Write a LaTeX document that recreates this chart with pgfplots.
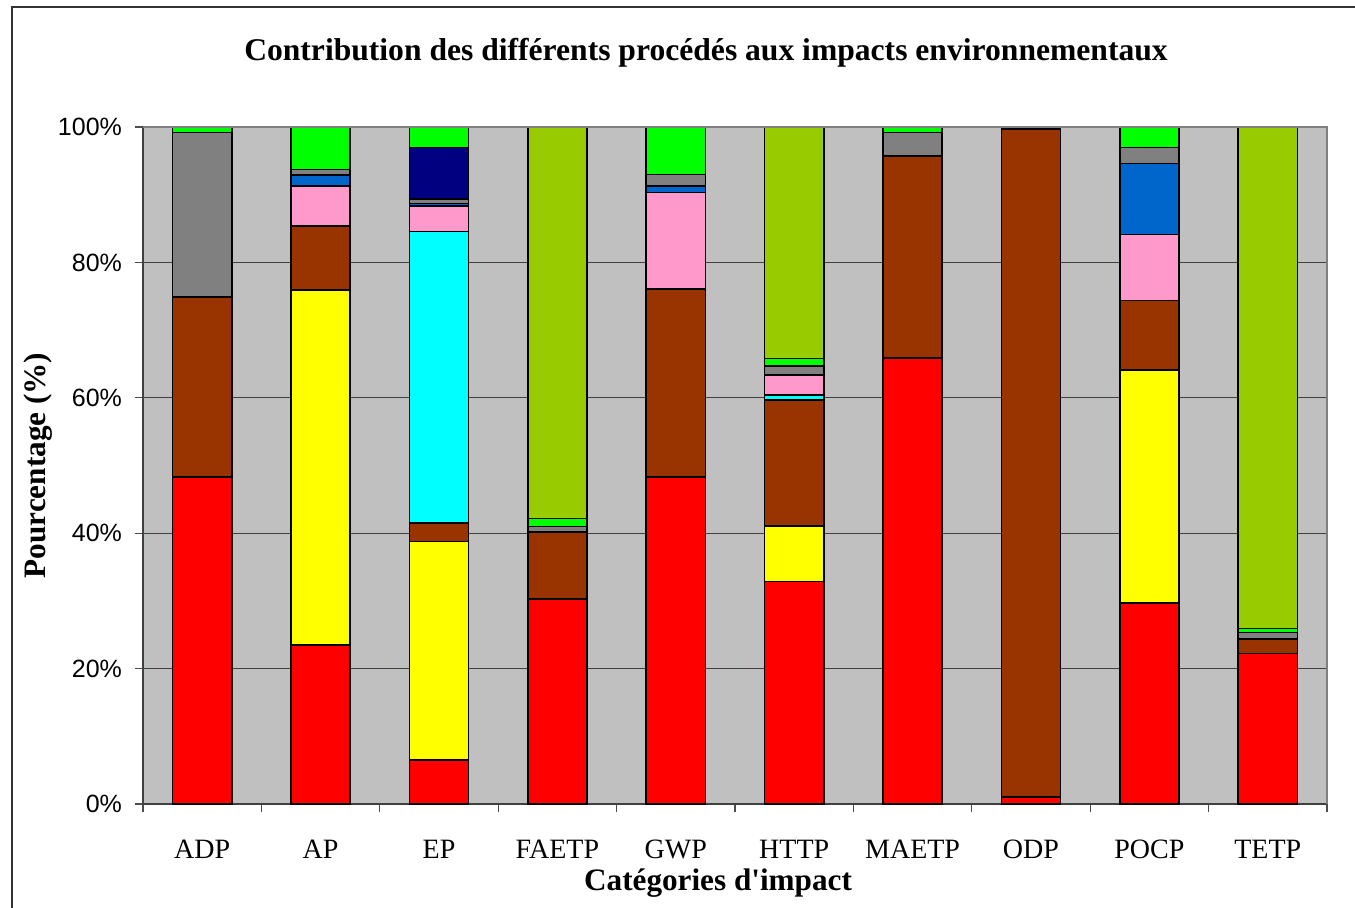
\documentclass[border=0pt]{standalone}
\usepackage{pgfplots}
\pgfplotsset{compat=1.18}
\usepackage{fontspec}
\setmainfont{Liberation Serif}
\newfontfamily\serifnt{Liberation Serif}[Ligatures=TeXOff]
\newfontfamily\arial{Liberation Sans}
\definecolor{cRed}{HTML}{FF0000}
\definecolor{cYellow}{HTML}{FFFF00}
\definecolor{cBrown}{HTML}{993300}
\definecolor{cCyan}{HTML}{00FFFF}
\definecolor{cPink}{HTML}{FF99CC}
\definecolor{cBlue}{HTML}{0066CC}
\definecolor{cGray}{HTML}{808080}
\definecolor{cNavy}{HTML}{000080}
\definecolor{cGreen}{HTML}{00FF00}
\definecolor{cOlive}{HTML}{99CC00}
\definecolor{cBack}{HTML}{C0C0C0}
\begin{document}
\begin{tikzpicture}
\useasboundingbox (0,0) rectangle (677.5pt,-454pt);
\draw[line width=0.8pt, black!80] (6pt,-460pt) -- (6pt,-3.5pt) -- (690pt,-3.5pt);
\begin{axis}[
  at={(71.5pt,-402pt)}, anchor=south west,
  scale only axis, width=592pt, height=338.5pt,
  ybar stacked, bar width=0.5,
  xmin=-0.5, xmax=9.5, ymin=0, ymax=100,
  axis background/.style={fill=cBack},
  xtick={0,...,9},
  xticklabels={ADP,AP,EP,FAETP,GWP,HTTP,MAETP,ODP,POCP,TETP},
  major x tick style={draw=none},
  minor xtick={-0.5,0.5,...,9.5},
  minor tick length=4pt,
  ytick={0,20,40,60,80,100},
  yticklabels={0\%,20\%,40\%,60\%,80\%,100\%},
  major tick length=4pt,
  tick align=outside,
  tick style={black!70, line width=0.6pt},
  ymajorgrids, grid style={black!75, line width=0.6pt},
  axis x line*=bottom, axis y line*=left,
  x axis line style={black!75, line width=0.8pt},
  y axis line style={black!75, line width=0.8pt},
  xticklabel style={font=\fontsize{14}{16}\selectfont, yshift=-10.5pt},
  yticklabel style={font=\arial\fontsize{12.5}{14}\selectfont, xshift=-3pt},
  clip=false,
  every axis plot/.append style={draw=black, line width=0.75pt},
]
% red
\addplot[fill=cRed] coordinates {(0,48.3)(1,23.5)(2,6.5)(3,30.3)(4,48.3)(5,32.9)(6,65.9)(7,1.0)(8,29.7)(9,22.2)};
% yellow
\addplot[fill=cYellow] coordinates {(0,0)(1,52.4)(2,32.3)(3,0)(4,0)(5,8.2)(6,0)(7,0)(8,34.4)(9,0)};
% brown
\addplot[fill=cBrown] coordinates {(0,26.6)(1,9.5)(2,2.7)(3,9.9)(4,27.8)(5,18.6)(6,29.8)(7,98.7)(8,10.3)(9,2.2)};
% cyan
\addplot[fill=cCyan] coordinates {(0,0)(1,0)(2,43.1)(3,0)(4,0)(5,0.7)(6,0)(7,0)(8,0)(9,0)};
% pink
\addplot[fill=cPink] coordinates {(0,0)(1,5.9)(2,3.7)(3,0)(4,14.2)(5,3.0)(6,0)(7,0)(8,9.7)(9,0)};
% blue
\addplot[fill=cBlue] coordinates {(0,0)(1,1.6)(2,0.4)(3,0)(4,1.0)(5,0)(6,0)(7,0)(8,10.5)(9,0)};
% gray
\addplot[fill=cGray] coordinates {(0,24.3)(1,0.8)(2,0.7)(3,0.8)(4,1.7)(5,1.3)(6,3.5)(7,0.15)(8,2.4)(9,0.9)};
% navy
\addplot[fill=cNavy] coordinates {(0,0)(1,0)(2,7.6)(3,0)(4,0)(5,0)(6,0)(7,0)(8,0)(9,0)};
% green
\addplot[fill=cGreen] coordinates {(0,0.8)(1,6.3)(2,3.0)(3,1.2)(4,7.0)(5,1.1)(6,0.8)(7,0.15)(8,3.0)(9,0.6)};
% olive
\addplot[fill=cOlive] coordinates {(0,0)(1,0)(2,0)(3,57.8)(4,0)(5,34.2)(6,0)(7,0)(8,0)(9,74.1)};
\end{axis}
\draw[black!50, line width=0.8pt] (71.5pt,-63.5pt) -- (663.5pt,-63.5pt) -- (663.5pt,-402pt);
\node[font=\bfseries\fontsize{15.8}{18}\selectfont] at (353pt,-26.5pt) {Contribution des différents procédés aux impacts environnementaux};
\node[font=\bfseries\fontsize{15.6}{18}\selectfont, rotate=90] at (19pt,-232.75pt) {Pourcentage (\%)};
\node[font=\serifnt\bfseries\fontsize{15.6}{18}\selectfont] at (359pt,-441.5pt) {Catégories d'impact};
\end{tikzpicture}
\end{document}
